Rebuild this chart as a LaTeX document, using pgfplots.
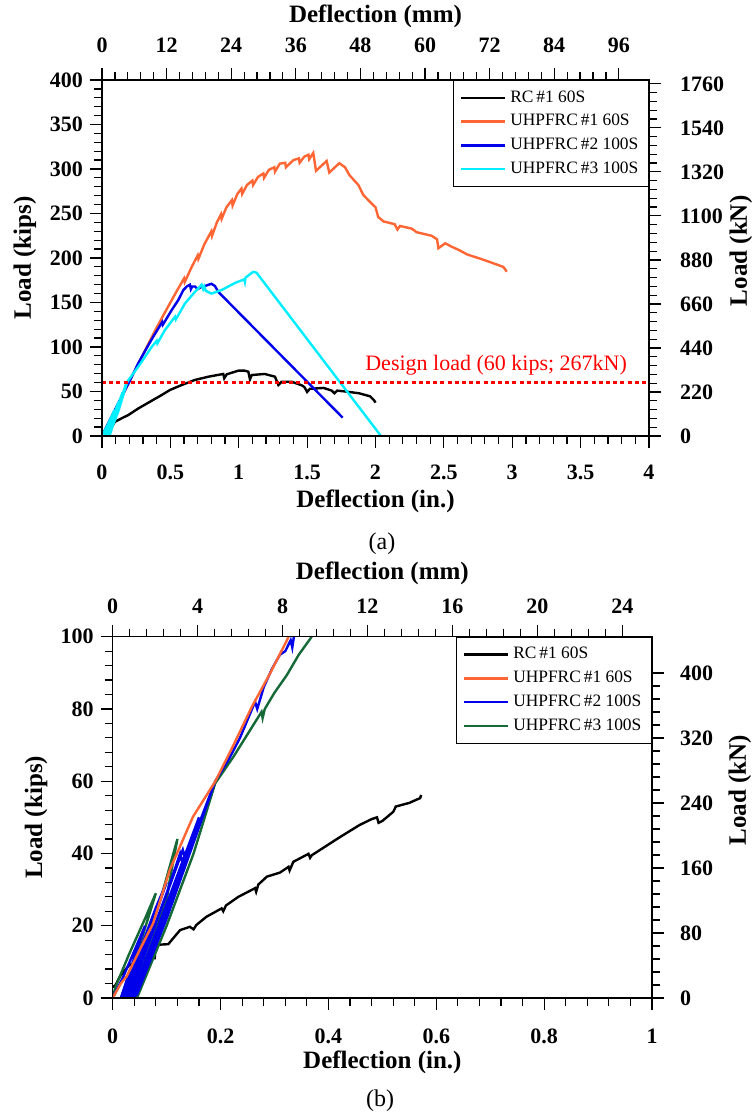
\documentclass[border=0pt]{standalone}
\usepackage{fontspec}
\setmainfont{Liberation Serif}
\usepackage{pgfplots}
\pgfplotsset{compat=1.18}

\definecolor{cOrange}{RGB}{255,102,51}
\definecolor{cBlue}{RGB}{0,0,235}
\definecolor{cCyan}{RGB}{0,238,255}
\definecolor{cGreen}{RGB}{20,105,55}

\pgfplotsset{
  panel/.style={
    scale only axis,
    axis line style={line width=0.6pt},
    every tick/.style={line width=0.6pt, black},
    tick align=outside,
    major tick length=6pt, minor tick length=4pt,
    minor x tick num=4, minor y tick num=4,
    scaled ticks=false,
    /pgf/number format/assume math mode=true,
    /pgf/number format/1000 sep={},
    ticklabel style={font=\fontsize{11}{13}\selectfont\bfseries},
    label style={font=\fontsize{12.5}{14}\selectfont\bfseries},
  },
  curve/.style={line width=1.2pt},
  leg/.style={
    legend image code/.code={\draw[##1,line width=1.2pt] (0pt,0pt) -- (22pt,0pt);},
    legend style={at={(1,1)}, anchor=north east, draw=black, line width=0.6pt,
      font=\fontsize{8.7}{10}\selectfont, legend cell align=left,
      inner xsep=3pt, inner ysep=3pt, row sep=0.6pt},
  },
}

\begin{document}
\begin{tikzpicture}
\path[use as bounding box] (0,0) rectangle (376.5pt,557.5pt);

% ---------- (a) ----------
\begin{axis}[panel, leg,
  at={(51pt,339.5pt)}, anchor=south west,
  width=273.5pt, height=178pt,
  xmin=0, xmax=4, ymin=0, ymax=400,
  xtick={0,0.5,...,4}, ytick={0,50,...,400},
  xtick pos=left, ytick pos=left,
  xticklabel style={yshift=-5pt},
  xlabel={Deflection (in.)}, ylabel={Load (kips)},
  xlabel style={at={(axis description cs:0.5,-0.185)}, anchor=center},
  ylabel style={at={(axis description cs:-0.141,0.5)}, anchor=center},
]
\addplot[curve, black] coordinates {
(0,1) (0.03,5) (0.06,9) (0.071,10.5) (0.095,16) (0.144,19.9) (0.193,23.6)
(0.266,31) (0.351,38.5) (0.436,46) (0.497,51.7) (0.583,57.3) (0.68,63)
(0.777,66.6) (0.887,69.7) (0.894,64.8) (0.912,69.3) (0.997,73.4) (1.04,73.5)
(1.07,72.3) (1.082,63.7) (1.095,68.5) (1.19,69.7) (1.265,66.6) (1.29,57.3)
(1.314,61) (1.387,61) (1.46,57) (1.48,55) (1.50,49.5) (1.52,53) (1.62,54)
(1.68,51) (1.70,48) (1.72,51) (1.78,50) (1.88,48) (1.96,44.6) (1.99,40) (2.0,37.5)
};
\addlegendentry{RC\,\#1 60S}
\addplot[curve, cOrange] coordinates {
(0,0) (0.1,30.5) (0.2,61) (0.3,91.5) (0.39,119) (0.45,136) (0.50,150) (0.551,164)
(0.60,177) (0.605,173) (0.656,190) (0.70,203) (0.705,199) (0.75,216) (0.80,230)
(0.805,225) (0.84,240) (0.87,249) (0.875,244) (0.91,257) (0.95,265) (0.955,259)
(0.99,272) (1.02,278) (1.025,272) (1.06,282) (1.10,287) (1.105,282) (1.14,291)
(1.18,295) (1.185,290) (1.22,299) (1.26,302) (1.265,297) (1.30,306) (1.34,307)
(1.345,302) (1.40,310) (1.44,312) (1.445,307) (1.48,314) (1.51,316) (1.515,311)
(1.545,318) (1.565,298) (1.643,309) (1.662,296) (1.735,306.5) (1.777,302)
(1.81,293) (1.875,282) (1.91,271) (1.96,263) (2.0,257) (2.02,246) (2.06,241)
(2.14,238) (2.16,232) (2.18,236) (2.265,233) (2.30,229) (2.41,225) (2.45,221)
(2.46,211) (2.51,216.5) (2.557,212.7) (2.61,209) (2.67,204) (2.79,198)
(2.935,190) (2.96,184.6)
};
\addlegendentry{UHPFRC\,\#1 60S}
\addplot[curve, cBlue] coordinates {
(0,0) (0.1,31) (0.2,61) (0.266,82) (0.32,97) (0.375,111.6) (0.44,128) (0.445,125)
(0.51,141.6) (0.558,152.8) (0.595,164) (0.62,168) (0.643,170) (0.65,165) (0.66,168)
(0.68,168) (0.70,165) (0.72,167) (0.753,168.5) (0.78,170) (0.80,171) (0.826,168.5)
(0.85,162) (1.76,20.6)
};
\addlegendentry{UHPFRC\,\#2 100S}
\addplot[curve, cCyan] coordinates {
(0,0) (0.04,12) (0.07,22) (0.015,0) (0.01,0) (0.05,14) (0.09,29) (0.025,0)
(0.02,0) (0.07,18) (0.12,38) (0.035,0) (0.03,0) (0.09,22) (0.15,49) (0.045,0)
(0.04,0) (0.11,27) (0.18,61) (0.055,0) (0.05,0) (0.12,28) (0.185,61) (0.266,78)
(0.363,100) (0.40,107) (0.405,104) (0.46,119) (0.534,134) (0.54,131) (0.607,149)
(0.68,162) (0.729,170) (0.74,165) (0.748,168) (0.76,163) (0.80,160) (0.875,164)
(0.973,172) (1.04,176) (1.045,173) (1.05,178) (1.106,184.5) (1.13,183.5) (2.04,0)
};
\addlegendentry{UHPFRC\,\#3 100S}
\addplot[forget plot, red, line width=1.1pt, dash pattern=on 2pt off 1.6pt]
  coordinates {(0,60) (4,60)};
\node[red, anchor=base east, font=\fontsize{11}{13}\selectfont]
  at (axis cs:3.89,74) {Design load (60 kips; 267kN)};
\end{axis}

\begin{axis}[panel,
  at={(51pt,339.5pt)}, anchor=south west,
  width=273.5pt, height=178pt,
  xmin=0, xmax=101.6, ymin=0, ymax=1779.2,
  xtick={0,12,...,96}, ytick={0,220,...,1760},
  xtick pos=right, ytick pos=right,
  xticklabel pos=right, yticklabel pos=right,
  xticklabel style={yshift=4pt}, yticklabel style={xshift=6pt},
  xlabel={Deflection (mm)}, ylabel={Load (kN)},
  xlabel style={at={(axis description cs:0.5,1.18)}, anchor=center},
  ylabel style={at={(axis description cs:1.168,0.52)}, anchor=center},
]
\end{axis}

\node[font=\fontsize{12}{14}\selectfont] at (191pt,285.5pt) {(a)};

% ---------- (b) ----------
\begin{axis}[panel, leg,
  at={(56.35pt,58.5pt)}, anchor=south west,
  width=269.65pt, height=180.65pt,
  xmin=0, xmax=1, ymin=0, ymax=100,
  xtick={0,0.2,...,1}, ytick={0,20,...,100},
  xtick pos=left, ytick pos=left,
  xticklabel style={yshift=-6pt},
  xlabel={Deflection (in.)}, ylabel={Load (kips)},
  xlabel style={at={(axis description cs:0.5,-0.177)}, anchor=center},
  ylabel style={at={(axis description cs:-0.142,0.5)}, anchor=center},
]
\addplot[forget plot, curve, black] coordinates {
(0,3) (0.005,3.5) (0.0136,6) (0.03,9) (0.057,11) (0.078,11) (0.079,14.7)
(0.103,14.9) (0.125,18.8) (0.143,19.7) (0.150,19) (0.155,20.2) (0.174,22.5)
(0.202,24.8) (0.205,24) (0.21,25.6) (0.233,28) (0.264,30.4) (0.266,29.4)
(0.27,31.4) (0.286,33.6) (0.310,34.7) (0.326,36.3) (0.328,35.3) (0.335,37.7)
(0.363,39.9) (0.366,38.8) (0.369,39.5) (0.421,44.5) (0.458,47.9) (0.48,49.5)
(0.49,50) (0.493,48.5) (0.50,49) (0.52,51.5) (0.525,53) (0.55,54) (0.565,55)
(0.57,55.3) (0.572,56.2)
};
\addplot[forget plot, curve, cGreen] coordinates {
(0,0) (0.005,3) (0.03,12) (0.06,22) (0.08,29) (0.02,0) (0.025,0) (0.06,15)
(0.09,28) (0.12,44) (0.105,32) (0.10,27) (0.035,0) (0.04,0) (0.08,15) (0.13,37)
(0.16,48) (0.04,0) (0.045,0) (0.10,20) (0.15,40) (0.19,59.4) (0.224,66.8)
(0.25,73) (0.276,79.2) (0.278,77.5) (0.282,80) (0.30,84.5) (0.323,89.4)
(0.345,95) (0.369,100)
};
\addplot[forget plot, curve, cBlue] coordinates {
(0,0) (0.02,6) (0.04,13) (0.06,20) (0.015,0) (0.02,0) (0.05,13) (0.08,25)
(0.10,32) (0.025,0) (0.03,0) (0.07,17) (0.10,29) (0.125,40) (0.13,37) (0.135,38)
(0.13,41) (0.03,0) (0.035,0) (0.08,16) (0.12,31) (0.155,47) (0.16,50) (0.035,0)
(0.04,0) (0.09,19) (0.14,39) (0.19,60) (0.04,1) (0.045,1) (0.10,22) (0.15,43)
(0.19,60) (0.215,66) (0.236,72) (0.25,77) (0.264,82) (0.268,80) (0.28,86)
(0.295,91) (0.31,95) (0.32,96) (0.33,99) (0.333,97) (0.336,100)
};
\addplot[forget plot, curve, cOrange] coordinates {
(0,0) (0.015,4) (0.026,6) (0.05,13.3) (0.075,20.7) (0.106,35.5) (0.149,50.2)
(0.19,59.9) (0.224,70) (0.258,80.6) (0.292,89.9) (0.323,99) (0.326,100)
};
\addlegendimage{curve, black}\addlegendentry{RC\,\#1 60S}
\addlegendimage{curve, cOrange}\addlegendentry{UHPFRC\,\#1 60S}
\addlegendimage{curve, cBlue}\addlegendentry{UHPFRC\,\#2 100S}
\addlegendimage{curve, cGreen}\addlegendentry{UHPFRC\,\#3 100S}
\end{axis}

\begin{axis}[panel,
  at={(56.35pt,58.5pt)}, anchor=south west,
  width=269.65pt, height=180.65pt,
  xmin=0, xmax=25.4, ymin=0, ymax=444.8,
  xtick={0,4,...,24}, ytick={0,80,...,400},
  xtick pos=right, ytick pos=right,
  xticklabel pos=right, yticklabel pos=right,
  xticklabel style={yshift=2pt}, yticklabel style={xshift=4.5pt},
  xlabel={Deflection (mm)}, ylabel={Load (kN)},
  xlabel style={at={(axis description cs:0.5,1.174)}, anchor=center},
  ylabel style={at={(axis description cs:1.163,0.575)}, anchor=center},
]
\end{axis}

\node[font=\fontsize{12}{14}\selectfont] at (190pt,7pt) {(b)};
\end{tikzpicture}
\end{document}
